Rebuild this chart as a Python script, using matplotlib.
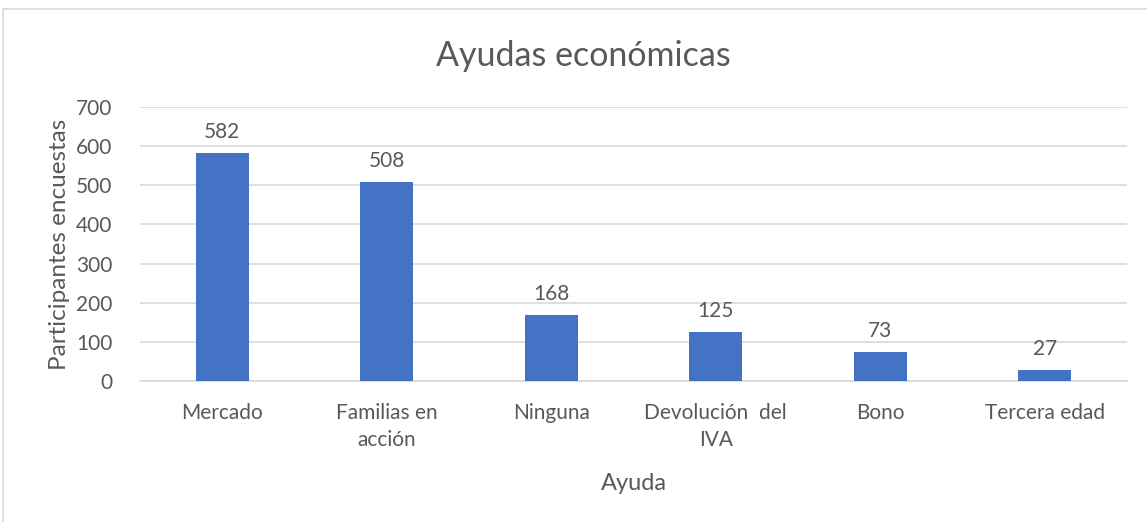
import matplotlib as mpl
mpl.use("Agg")
import matplotlib.pyplot as plt
from matplotlib.patches import Rectangle

plt.rcParams["font.family"] = ["Lato", "DejaVu Sans"]

CATEGORIES = ["Mercado", "Familias en\nacción", "Ninguna", "Devolución  del\nIVA", "Bono", "Tercera edad"]
VALUES = [582, 508, 168, 125, 73, 27]
YTICKS = [0, 100, 200, 300, 400, 500, 600, 700]

BAR = "#4472C4"
TEXT = "#595959"
GRID = "#D9D9D9"

fig = plt.figure(figsize=(11.47, 5.22), dpi=100)
ax = fig.add_axes([0.122, 0.270, 0.8606, 0.525])

# outer chart border (only top and left visible in the reference)
fig.patches.append(Rectangle((0.003, -0.01), 1.2, 0.993, transform=fig.transFigure,
                             fill=False, edgecolor="#D9D9D9", linewidth=1.2))

xs = range(len(CATEGORIES))
ax.bar(xs, VALUES, width=0.32, color=BAR, zorder=3)
for x, v in zip(xs, VALUES):
	ax.annotate(str(v), (x, v), xytext=(0, 8), textcoords="offset points",
	            ha="center", va="bottom", fontsize=15, color=TEXT)

ax.set_xlim(-0.5, len(CATEGORIES) - 0.5)
ax.set_ylim(0, 700)
ax.set_yticks(YTICKS)
ax.set_xticks(list(xs))
ax.set_xticklabels(CATEGORIES, linespacing=1.45)
ax.tick_params(axis="both", length=0, labelsize=15, labelcolor=TEXT)
ax.tick_params(axis="x", pad=16)
ax.tick_params(axis="y", pad=20)
ax.grid(axis="y", color=GRID, linewidth=1.2, zorder=0)
for s in ["top", "right", "left"]:
	ax.spines[s].set_visible(False)
ax.spines["bottom"].set_color(GRID)
ax.spines["bottom"].set_linewidth(1.2)

ax.set_ylabel("Participantes encuestas", fontsize=17.5, color=TEXT, labelpad=4)
ax.set_xlabel("Ayuda", fontsize=17, color=TEXT, labelpad=16)
fig.text(0.509, 0.893, "Ayudas económicas", ha="center", va="center", fontsize=24.5, color=TEXT)

plt.savefig("out.png", dpi=100)
